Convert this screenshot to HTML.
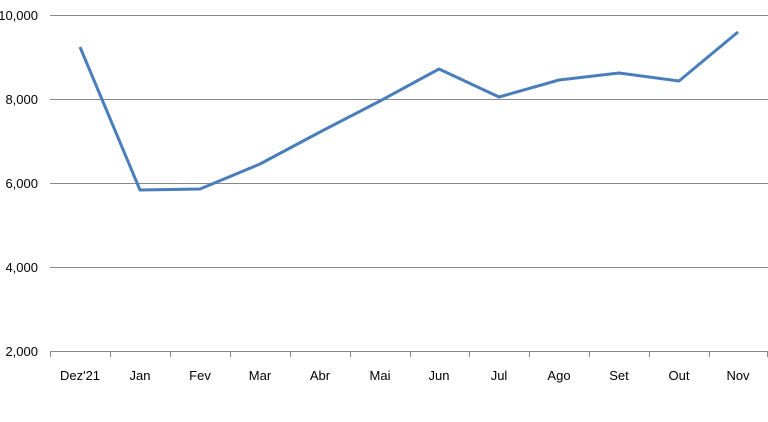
<!DOCTYPE html>
<html><head><meta charset="utf-8"><style>body{margin:0;background:#fff}svg{display:block}text{font-family:"Liberation Sans",sans-serif;font-size:13px;fill:#000}</style></head><body>
<svg width="768" height="422" viewBox="0 0 768 422">
<g stroke="#888" stroke-width="1">
<line x1="50" y1="15.5" x2="768" y2="15.5"/>
<line x1="50" y1="99.5" x2="768" y2="99.5"/>
<line x1="50" y1="183.5" x2="768" y2="183.5"/>
<line x1="50" y1="267.5" x2="768" y2="267.5"/>
<line x1="50" y1="351.5" x2="768" y2="351.5"/>
<path d="M50.5 351v6M110.5 351v6M170.5 351v6M230.5 351v6M290.5 351v6M350.5 351v6M410.5 351v6M469.5 351v6M529.5 351v6M589.5 351v6M649.5 351v6M709.5 351v6M767.5 351v6"/>
</g>
<g text-anchor="end">
<text x="38" y="20">10,000</text><text x="38" y="104">8,000</text><text x="38" y="188">6,000</text><text x="38" y="272">4,000</text><text x="38" y="356">2,000</text>
</g>
<g text-anchor="middle" style="font-size:14px">
<text x="80" y="380">Dez'21</text><text x="140" y="380">Jan</text><text x="200" y="380">Fev</text><text x="260" y="380">Mar</text><text x="320" y="380">Abr</text><text x="380" y="380">Mai</text><text x="439" y="380">Jun</text><text x="499" y="380">Jul</text><text x="559" y="380">Ago</text><text x="619" y="380">Set</text><text x="679" y="380">Out</text><text x="738" y="380">Nov</text>
</g>
<polyline fill="none" stroke="#4a7ebb" stroke-width="3" stroke-linejoin="round" points="80,47 140,190 200,189 260,164 320,132 380,101 439,69 499,97 559,80 619,73 679,81 738,32"/>
</svg>
</body></html>
